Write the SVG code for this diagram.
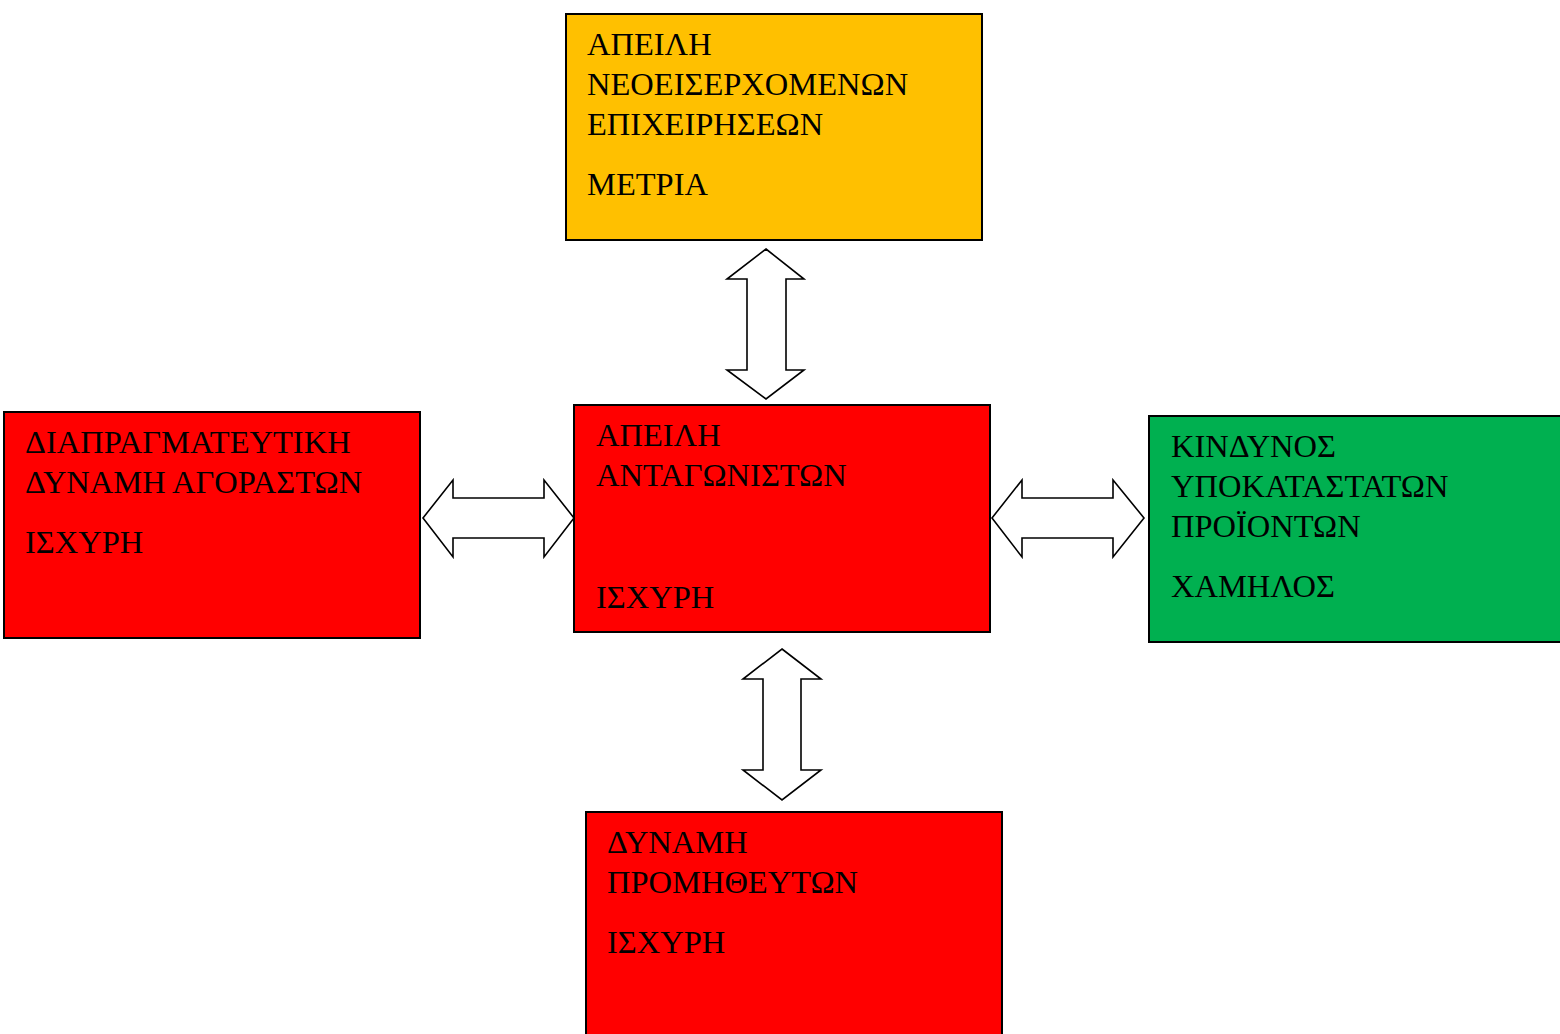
<svg xmlns="http://www.w3.org/2000/svg" width="1560" height="1034" viewBox="0 0 1560 1034">
<style>
.box{stroke:#000;stroke-width:2}
.t{font-family:"Liberation Serif","Times New Roman",serif;font-size:32.5px;fill:#000}
.arr{fill:#fff;stroke:#000;stroke-width:1.6;stroke-linejoin:miter}
</style>
<rect width="1560" height="1034" fill="#fff"/>
<g id="node-new-entrants">
<rect class="box" x="566" y="14" width="416" height="226" fill="#FFC000"/>
<text class="t" x="587" y="55">ΑΠΕΙΛΗ</text>
<text class="t" x="587" y="95">ΝΕΟΕΙΣΕΡΧΟΜΕΝΩΝ</text>
<text class="t" x="587" y="135">ΕΠΙΧΕΙΡΗΣΕΩΝ</text>
<text class="t" x="587" y="195">ΜΕΤΡΙΑ</text>
</g>
<g id="node-competitors">
<rect class="box" x="574" y="405" width="416" height="227" fill="#FF0000"/>
<text class="t" x="596" y="446">ΑΠΕΙΛΗ</text>
<text class="t" x="596" y="486">ΑΝΤΑΓΩΝΙΣΤΩΝ</text>
<text class="t" x="596" y="608">ΙΣΧΥΡΗ</text>
</g>
<g id="node-buyers">
<rect class="box" x="4" y="412" width="416" height="226" fill="#FF0000"/>
<text class="t" x="25" y="453">ΔΙΑΠΡΑΓΜΑΤΕΥΤΙΚΗ</text>
<text class="t" x="25" y="493">ΔΥΝΑΜΗ ΑΓΟΡΑΣΤΩΝ</text>
<text class="t" x="25" y="553">ΙΣΧΥΡΗ</text>
</g>
<g id="node-substitutes">
<rect class="box" x="1149" y="416" width="414" height="226" fill="#00B050"/>
<text class="t" x="1171" y="457">ΚΙΝΔΥΝΟΣ</text>
<text class="t" x="1171" y="497">ΥΠΟΚΑΤΑΣΤΑΤΩΝ</text>
<text class="t" x="1171" y="537">ΠΡΟΪΟΝΤΩΝ</text>
<text class="t" x="1171" y="597">ΧΑΜΗΛΟΣ</text>
</g>
<g id="node-suppliers">
<rect class="box" x="586" y="812" width="416" height="226" fill="#FF0000"/>
<text class="t" x="607" y="853">ΔΥΝΑΜΗ</text>
<text class="t" x="607" y="893">ΠΡΟΜΗΘΕΥΤΩΝ</text>
<text class="t" x="607" y="953">ΙΣΧΥΡΗ</text>
</g>
<g id="connectors">
<polygon class="arr" points="766,249 804,279 786,279 786,370 804,370 766,399 727,370 747,370 747,279 727,279"/>
<polygon class="arr" points="782,649 821,679 801,679 801,770 821,770 782,800 743,770 763,770 763,679 743,679"/>
<polygon class="arr" points="423,518 453,480 453,498 544,498 544,480 574,518 544,557 544,538 453,538 453,557"/>
<polygon class="arr" points="992,518 1022,480 1022,498 1113,498 1113,480 1144,518 1113,557 1113,538 1022,538 1022,557"/>
</g>
</svg>
